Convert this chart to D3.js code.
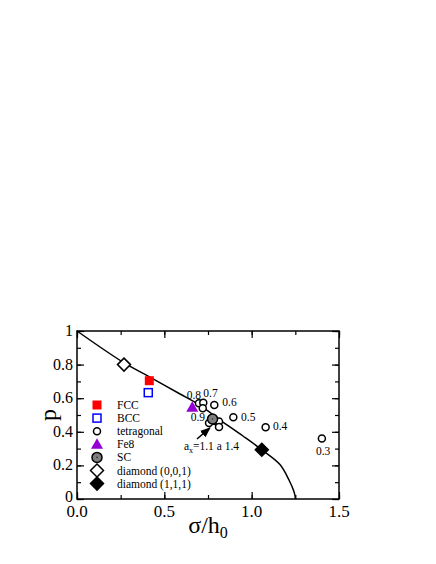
<!DOCTYPE html>
<html>
<head>
<meta charset="utf-8">
<script src="https://cdn.jsdelivr.net/npm/d3@7"></script>
<style>
  body { margin: 0; background: #fff; }
  text { font-family: "Liberation Serif", "Times New Roman", serif; }
</style>
</head>
<body>
<div id="chart"></div>
<script>
// data (sigma/h0, p)
var curve = [[0, 1], [0.27, 0.81], [0.41, 0.73], [0.59, 0.625], [0.70, 0.56], [0.82, 0.47],
  [0.95, 0.375], [1.058, 0.293], [1.162, 0.205], [1.215, 0.11], [1.24, 0.05], [1.249, 0.015], [1.25, 0]];
var fcc = [[0.414, 0.704]];
var bcc = [[0.408, 0.633]];
var tetragonal = [[0.698, 0.570], [0.723, 0.573], [0.720, 0.540], [0.786, 0.560], [0.895, 0.486],
  [1.080, 0.427], [1.402, 0.360], [0.756, 0.452], [0.79, 0.464], [0.813, 0.462], [0.813, 0.429]];
var fe8 = [[0.66, 0.546]];
var sc = [[0.776, 0.476]];
var diamond001 = [[0.269, 0.80]];
var diamond111 = [[1.058, 0.293]];

var tetraLabels = [["0.8", 0.628, 0.595], ["0.7", 0.723, 0.607], ["0.6", 0.832, 0.554],
  ["0.9", 0.651, 0.464], ["0.5", 0.939, 0.464], ["0.4", 1.122, 0.411], ["0.3", 1.368, 0.262]];
var arrow = [[0.687, 0.357], [0.761, 0.423]];

var legendNames = ["FCC", "BCC", "tetragonal", "Fe8", "SC", "diamond (0,0,1)", "diamond (1,1,1)"];
var xTicks = [0, 0.5, 1.0, 1.5];
var yTicks = [0, 0.2, 0.4, 0.6, 0.8, 1];

var W = 436, H = 564;
var margin = { top: 331, right: 97, bottom: 65, left: 77 };

var svg = d3.select("#chart").append("svg")
  .attr("width", W).attr("height", H);

var x = d3.scaleLinear().domain([0, 1.5]).range([margin.left, W - margin.right]);
var y = d3.scaleLinear().domain([0, 1]).range([H - margin.bottom, margin.top]);

// ticks (inward, minor + major) on all 4 sides
var xMinor = d3.range(0, 1.5001, 0.25);
var yMinor = d3.range(0, 1.0001, 0.1);

function tickAxis(axis, ticks, size) {
  return axis.tickValues(ticks).tickSizeInner(-size).tickSizeOuter(0).tickFormat("");
}
var pBottom = H - margin.bottom, pTop = margin.top, pLeft = margin.left, pRight = W - margin.right;

svg.append("g").attr("transform", "translate(0," + pBottom + ")").call(tickAxis(d3.axisBottom(x), xMinor, 4));
svg.append("g").attr("transform", "translate(0," + pBottom + ")").call(tickAxis(d3.axisBottom(x), xTicks, 7));
svg.append("g").attr("transform", "translate(0," + pTop + ")").call(tickAxis(d3.axisTop(x), xMinor, 4));
svg.append("g").attr("transform", "translate(0," + pTop + ")").call(tickAxis(d3.axisTop(x), xTicks, 7));
svg.append("g").attr("transform", "translate(" + pLeft + ",0)").call(tickAxis(d3.axisLeft(y), yMinor, 4));
svg.append("g").attr("transform", "translate(" + pLeft + ",0)").call(tickAxis(d3.axisLeft(y), yTicks, 7));
svg.append("g").attr("transform", "translate(" + pRight + ",0)").call(tickAxis(d3.axisRight(y), yMinor, 4));
svg.append("g").attr("transform", "translate(" + pRight + ",0)").call(tickAxis(d3.axisRight(y), yTicks, 7));
svg.selectAll(".domain").remove();
svg.selectAll(".tick line").attr("stroke", "#000").attr("stroke-width", 1.2);

// frame
svg.append("rect")
  .attr("x", pLeft).attr("y", pTop)
  .attr("width", pRight - pLeft).attr("height", pBottom - pTop)
  .attr("fill", "none").attr("stroke", "#000").attr("stroke-width", 1.5);

// tick labels
svg.append("g").selectAll("text").data(xTicks).enter().append("text")
  .attr("x", d => x(d)).attr("y", pBottom + 18)
  .attr("text-anchor", "middle").attr("font-size", 17)
  .text(d => d.toFixed(1));
svg.append("g").selectAll("text").data(yTicks).enter().append("text")
  .attr("x", pLeft - 4).attr("y", d => y(d) + (d === 0 ? 2.5 : 5))
  .attr("text-anchor", "end").attr("font-size", 16)
  .text(d => d === 0 || d === 1 ? d : d.toFixed(1));

// axis labels
var xl = svg.append("text")
  .attr("x", x(0.75)).attr("y", 533)
  .attr("text-anchor", "middle").attr("font-size", 24);
xl.append("tspan").text("σ/h");
xl.append("tspan").attr("font-size", 16).attr("dy", 5).text("0");

svg.append("text")
  .attr("transform", "translate(56," + y(0.5) + ") rotate(-90)")
  .attr("text-anchor", "middle").attr("font-size", 24)
  .text("p");

// curve
var line = d3.line().x(d => x(d[0])).y(d => y(d[1])).curve(d3.curveCatmullRom);
svg.append("path").datum(curve)
  .attr("d", line).attr("fill", "none")
  .attr("stroke", "#000").attr("stroke-width", 1.5);

// marker drawing helpers
function drawSymbol(g, type, px, py) {
  if (type === "FCC") {
    g.append("rect").attr("x", px - 4.5).attr("y", py - 4.5).attr("width", 9).attr("height", 9)
      .attr("fill", "#ff0000");
  } else if (type === "BCC") {
    g.append("rect").attr("x", px - 4).attr("y", py - 4).attr("width", 8).attr("height", 8)
      .attr("fill", "none").attr("stroke", "#0000ff").attr("stroke-width", 1.5);
  } else if (type === "tetragonal") {
    g.append("circle").attr("cx", px).attr("cy", py).attr("r", 3.5)
      .attr("fill", "#fff").attr("stroke", "#000").attr("stroke-width", 1.5);
  } else if (type === "Fe8") {
    g.append("path").attr("transform", "translate(" + px + "," + py + ")")
      .attr("d", "M0,-6L6,4.5L-6,4.5Z").attr("fill", "#9400d3");
  } else if (type === "SC") {
    g.append("circle").attr("cx", px).attr("cy", py).attr("r", 5)
      .attr("fill", "#7f7f7f").attr("stroke", "#000").attr("stroke-width", 1.5);
    g.append("circle").attr("cx", px).attr("cy", py).attr("r", 0.8).attr("fill", "#333");
  } else {
    var filled = type === "diamond (1,1,1)";
    g.append("path").attr("transform", "translate(" + px + "," + py + ")")
      .attr("d", "M0,-6.5L6.5,0L0,6.5L-6.5,0Z")
      .attr("fill", filled ? "#000" : "#fff").attr("stroke", "#000").attr("stroke-width", 1.5);
  }
}

var marks = svg.append("g");
var sets = [["diamond (0,0,1)", diamond001], ["FCC", fcc], ["BCC", bcc], ["tetragonal", tetragonal],
  ["Fe8", fe8], ["SC", sc], ["diamond (1,1,1)", diamond111]];
sets.forEach(function (s) {
  s[1].forEach(function (d) { drawSymbol(marks, s[0], x(d[0]), y(d[1])); });
});

// labels on tetragonal points
svg.append("g").selectAll("text").data(tetraLabels).enter().append("text")
  .attr("x", d => x(d[1])).attr("y", d => y(d[2]))
  .attr("font-size", 11.5).text(d => d[0]);

// arrow + annotation
svg.append("defs").append("marker")
  .attr("id", "head").attr("viewBox", "0 0 10 10").attr("refX", 9).attr("refY", 5)
  .attr("markerWidth", 7).attr("markerHeight", 7).attr("orient", "auto")
  .append("path").attr("d", "M0,1L10,5L0,9Z").attr("fill", "#000");
svg.append("line")
  .attr("x1", x(arrow[0][0])).attr("y1", y(arrow[0][1]))
  .attr("x2", x(arrow[1][0])).attr("y2", y(arrow[1][1]))
  .attr("stroke", "#000").attr("stroke-width", 1.5).attr("marker-end", "url(#head)");
var ann = svg.append("text").attr("x", x(0.612)).attr("y", y(0.292)).attr("font-size", 11.5);
ann.append("tspan").text("a");
ann.append("tspan").attr("font-size", 8).attr("dy", 3).text("x");
ann.append("tspan").attr("dy", -3).text("=1.1 a 1.4");

// legend
var lg = svg.append("g");
legendNames.forEach(function (name, i) {
  var ly = 405 + i * 13.1;
  drawSymbol(lg, name, 97, ly);
  lg.append("text").attr("x", 117).attr("y", ly + 4).attr("font-size", 11.5).text(name);
});
</script>
</body>
</html>
